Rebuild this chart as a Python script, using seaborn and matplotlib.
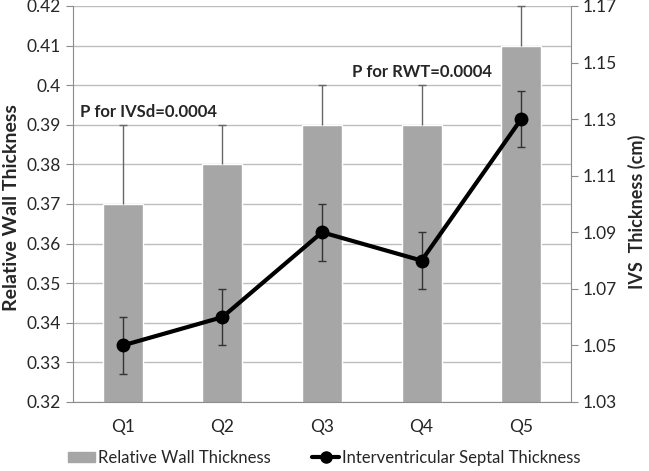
import numpy as np
import matplotlib
matplotlib.use("Agg")
import matplotlib.pyplot as plt
import seaborn as sns
from matplotlib.patches import Patch
from matplotlib.lines import Line2D

# datos
quintiles = ["Q1", "Q2", "Q3", "Q4", "Q5"]
rwt = [0.37, 0.38, 0.39, 0.39, 0.41]
rwt_err = [0.02, 0.01, 0.01, 0.01, 0.01]
ivs = [1.05, 1.06, 1.09, 1.08, 1.13]
ivs_err = [0.01, 0.01, 0.01, 0.01, 0.01]

left_ticks = [0.32, 0.33, 0.34, 0.35, 0.36, 0.37, 0.38, 0.39, 0.4, 0.41, 0.42]
left_labels = ["0.32", "0.33", "0.34", "0.35", "0.36", "0.37", "0.38", "0.39", "0.4", "0.41", "0.42"]
right_ticks = [1.03, 1.05, 1.07, 1.09, 1.11, 1.13, 1.15, 1.17]

sns.set_style("white")
plt.rcParams['font.family'] = ['Lato', 'DejaVu Sans']

fig = plt.figure(figsize=(6.49, 4.71), dpi=100)
ax = fig.add_axes([73 / 649, 1 - 402 / 471, (571 - 73) / 649, (402 - 6) / 471])

bar_grey = "#a6a6a6"
axis_grey = "#8c8c8c"

sns.barplot(x=quintiles, y=rwt, color=bar_grey, width=0.4, ax=ax, zorder=2,
            saturation=1)
pos = np.arange(len(quintiles))
# barras de error solo hacia arriba, con tope solo arriba
ax.errorbar(pos, rwt, yerr=[np.zeros(len(rwt)), rwt_err], fmt="none",
            ecolor="#666666", elinewidth=1, capsize=0, zorder=3)
ax.plot(pos, np.array(rwt) + np.array(rwt_err), linestyle="none", marker="_",
        markersize=6, color="#666666", zorder=3, clip_on=False)

ax.set_ylim(0.32, 0.42)
ax.set_xlim(-0.5, 4.5)
ax.set_yticks(left_ticks)
ax.set_yticklabels(left_labels, fontsize=12.5)
ax.yaxis.grid(True, color="#bdbdbd", linewidth=1)
ax.set_axisbelow(True)
ax.set_xticks(pos)
ax.set_xticklabels(quintiles, fontsize=12.5)
ax.set_xticks(np.arange(-0.5, 5, 1), minor=True)
ax.tick_params(axis="x", which="major", length=0, pad=12)
ax.tick_params(axis="x", which="minor", length=5, color=axis_grey, direction="out")
ax.tick_params(axis="y", length=5, color=axis_grey, direction="out", left=True)
ax.set_xlabel("")
ax.set_ylabel("Relative Wall Thickness", fontsize=14, fontweight="bold")
ax.yaxis.set_label_coords(-0.106, 0.49)
for s in ["left", "bottom"]:
    ax.spines[s].set_color(axis_grey)
ax.spines["top"].set_visible(False)
ax.spines["right"].set_visible(False)

ax2 = ax.twinx()
ax2.errorbar(pos, ivs, yerr=ivs_err, fmt="none", ecolor="#333333",
             elinewidth=1, capsize=3, zorder=4)
ax2.plot(pos, ivs, color="black", linewidth=3, marker="o", markersize=9, zorder=5)
ax2.set_ylim(1.03, 1.17)
ax2.set_yticks(right_ticks)
ax2.set_yticklabels([f"{t:.2f}" for t in right_ticks], fontsize=12.5)
ax2.tick_params(axis="y", length=5, color=axis_grey, direction="out", right=True)
ax2.set_ylabel("IVS  Thickness (cm)", fontsize=13, fontweight="bold", rotation=90)
ax2.yaxis.set_label_coords(1.115, 0.48)
ax2.spines["right"].set_color(axis_grey)
for s in ["left", "top", "bottom"]:
    ax2.spines[s].set_visible(False)

ax.text(-0.43, 0.392, "P for IVSd=0.0004", fontsize=12, fontweight="bold", zorder=6)
ax.text(2.3, 0.402, "P for RWT=0.0004", fontsize=12, fontweight="bold", zorder=6)

handles = [Patch(color=bar_grey),
           Line2D([0], [0], color="black", linewidth=3, marker="o", markersize=8)]
fig.legend(handles, ["Relative Wall Thickness", "Interventricular Septal Thickness"],
           loc="center", bbox_to_anchor=(0.5, 1 - 458 / 471), ncol=2, frameon=False,
           fontsize=12, handlelength=1.6, handleheight=0.6, handletextpad=0.2,
           columnspacing=2.5)

fig.savefig("out.png", dpi=100)
